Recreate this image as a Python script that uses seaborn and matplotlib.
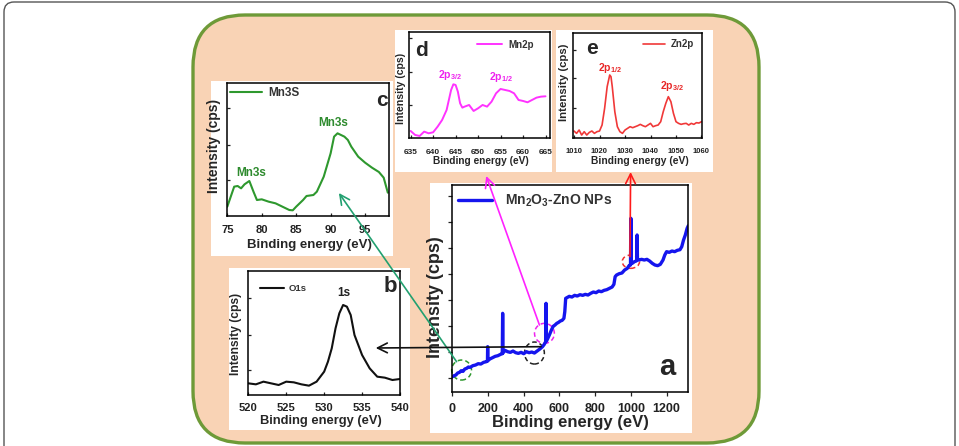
import matplotlib
matplotlib.use("Agg")
import matplotlib.pyplot as plt
from matplotlib.patches import FancyBboxPatch, Rectangle, Ellipse, ConnectionPatch
import seaborn as sns

# (a) survey spectrum, Mn2O3-ZnO NPs
survey_ev = [0, 10, 20, 30, 40, 50, 60, 70, 80, 90, 100, 115, 130, 145, 160, 175, 190, 197, 198, 199,
             210, 225, 240, 255, 270, 280, 282, 284, 295, 310, 325, 340, 355, 370, 385, 400, 415, 430,
             445, 460, 475, 490, 505, 515, 523, 525, 527, 535, 545, 555, 565, 575, 585, 595, 605, 615,
             625, 630, 635, 645, 655, 670, 685, 700, 715, 730, 745, 760, 775, 790, 805, 820, 835, 850,
             865, 880, 895, 905, 912, 920, 935, 950, 965, 980, 990, 998, 1000, 1002, 1010, 1020, 1030,
             1033, 1035, 1037, 1045, 1060, 1075, 1090, 1105, 1120, 1135, 1150, 1165, 1180, 1190, 1200,
             1215, 1230, 1245, 1260, 1275, 1285, 1295, 1305, 1315, 1322]
survey_cps = [45, 48, 50, 56, 58, 63, 61, 68, 70, 74, 73, 78, 80, 84, 83, 88, 90, 92, 135, 93,
              98, 102, 106, 108, 112, 114, 235, 116, 124, 120, 118, 122, 117, 115, 118, 114, 120, 117,
              119, 116, 122, 128, 135, 142, 150, 265, 152, 160, 172, 185, 196, 200, 205, 208, 212, 214,
              220, 240, 280, 283, 286, 284, 289, 287, 291, 289, 292, 290, 295, 299, 297, 302, 300, 304,
              306, 310, 314, 322, 345, 350, 354, 356, 365, 370, 378, 380, 520, 384, 386, 390, 392,
              394, 470, 396, 395, 397, 395, 397, 392, 385, 380, 378, 382, 395, 410, 420,
              418, 422, 420, 424, 426, 435, 455, 470, 490, 498]

# (b) O1s
o1s_ev = [520, 521, 522, 523, 524, 525, 526, 527, 528, 529, 530, 530.5, 531, 531.5, 532, 532.5, 533,
          533.5, 534, 534.5, 535, 536, 537, 538, 539, 540]
o1s_cps = [35, 32, 40, 35, 30, 40, 38, 32, 28, 40, 70, 100, 140, 200, 245, 270, 265, 240, 180, 150,
           120, 80, 55, 52, 45, 48]

# (c) Mn3s
mn3s_ev = [75, 75.5, 76, 76.5, 77, 77.5, 78.2, 78.8, 79.3, 80, 81, 82, 83, 84, 84.5, 85, 86, 86.5,
           87.5, 88, 89, 90, 90.5, 91, 91.5, 92, 92.5, 93, 94, 95, 96, 97, 97.7, 98.3]
mn3s_cps = [28, 58, 88, 90, 83, 95, 105, 73, 48, 50, 43, 38, 28, 18, 17, 28, 48, 60,
            63, 73, 118, 188, 238, 248, 243, 238, 228, 208, 178, 160, 145, 132, 115, 70]

# (d) Mn2p
mn2p_ev = [635, 636, 637, 638, 639, 640, 641, 642, 643, 644, 644.5, 645, 645.5, 646, 646.5, 647, 648,
           649, 650, 651, 652, 653, 654, 655, 656, 657, 658, 659, 660, 661, 662, 663, 664, 665]
mn2p_cps = [22, 10, 7, 20, 15, 18, 35, 55, 85, 145, 162, 160, 140, 105, 92, 95, 100,
            82, 90, 100, 95, 110, 135, 148, 145, 142, 135, 115, 112, 108, 115, 122, 125, 126]

# (e) Zn2p
zn2p_ev = [1010, 1011, 1012, 1013, 1014, 1015, 1016, 1017, 1018, 1019, 1020, 1021, 1022, 1023, 1024,
           1024.5, 1025, 1026, 1027, 1028, 1029, 1030, 1031, 1032, 1033, 1034, 1035, 1036, 1037, 1038,
           1039, 1040, 1041, 1042, 1043, 1044, 1045, 1046, 1047, 1048, 1049, 1050, 1051, 1052, 1053,
           1054, 1055, 1056, 1057, 1058, 1059, 1060]
zn2p_cps = [20, 13, 23, 8, 18, 8, 16, 20, 13, 18, 20, 38, 88, 153, 188,
            183, 153, 78, 33, 18, 13, 23, 28, 33, 30, 33, 36, 40, 36, 33,
            38, 43, 33, 36, 38, 48, 78, 103, 123, 108, 73, 48, 43, 40, 42,
            43, 38, 43, 40, 45, 44, 48]

sns.set_style("white")
plt.rcParams["font.family"] = ["Liberation Sans", "DejaVu Sans"]
plt.rcParams["font.weight"] = "bold"
plt.rcParams["axes.labelweight"] = "bold"
plt.rcParams["mathtext.fontset"] = "custom"
plt.rcParams["mathtext.rm"] = "Liberation Sans:bold"
plt.rcParams["mathtext.bf"] = "Liberation Sans:bold"
plt.rcParams["mathtext.default"] = "bf"

W, H = 959, 446
fig = plt.figure(figsize=(W / 100, H / 100), dpi=100)

# background in pixel units
bg = fig.add_axes([0, 0, 1, 1], zorder=-5)
bg.set_xlim(0, W)
bg.set_ylim(H, 0)
bg.axis("off")
bg.add_patch(FancyBboxPatch((4, 2), 951, 490, boxstyle="round,pad=0,rounding_size=10",
                            fc="white", ec="#555555", lw=1.0, clip_on=False))
bg.add_patch(FancyBboxPatch((193, 15), 566, 428, boxstyle="round,pad=0,rounding_size=52",
                            fc="#F9D3B5", ec="#6E9A38", lw=2.4))
for x0, y0, x1, y1 in [(211, 81, 393, 256), (395, 30, 552, 172), (556, 30, 713, 172),
                       (229, 268, 410, 430), (430, 183, 692, 433)]:
    bg.add_patch(Rectangle((x0, y0), x1 - x0, y1 - y0, fc="white", ec="none"))


def add_panel(x0, y0, x1, y1):
    return fig.add_axes([x0 / W, 1 - y1 / H, (x1 - x0) / W, (y1 - y0) / H])


def frame(ax, fs, pad, direction, length):
    for s in ax.spines.values():
        s.set_visible(True)
        s.set_color("black")
        s.set_linewidth(1.1)
    ax.tick_params(axis="both", direction=direction, length=length, width=0.9,
                   colors="#222222", labelsize=fs, pad=pad, bottom=True, left=True)
    ax.set_yticklabels([])


def legend(ax, fx, fy, fs, hl, tp):
    leg = ax.legend(loc="center left", bbox_to_anchor=(fx, fy), frameon=False, fontsize=fs,
                    handlelength=hl, handletextpad=tp, borderpad=0, borderaxespad=0)
    for t in leg.get_texts():
        t.set_color("#333333")


# ---- (a) survey
ax_a = add_panel(452.3, 185, 688, 391.7)
sns.lineplot(x=survey_ev, y=survey_cps, ax=ax_a, color="#1515EE", lw=2.4,
             label="Mn$_2$O$_3$-ZnO NPs", errorbar=None)
ax_a.set_xlim(0, 1320)
ax_a.set_ylim(0, 620)
ax_a.set_xticks([0, 200, 400, 600, 800, 1000, 1200])
ax_a.set_yticks([40, 118, 196, 274, 352, 430, 508, 586])
frame(ax_a, 9, 5.3, "out", 3)
ax_a.set_xlabel("Binding energy (eV)", fontsize=12)
ax_a.set_ylabel("Intensity (cps)", fontsize=13)
ax_a.xaxis.set_label_coords(0.5, -0.112)
ax_a.yaxis.set_label_coords(-0.037, 0.459)
legend(ax_a, 0.024, 0.923, 10, 2.45, 0.95)
ax_a.text(0.911, 0.121, "a", transform=ax_a.transAxes, fontsize=21, ha="center", va="center")

# ---- (b) O1s
ax_b = add_panel(248.3, 271, 400, 395)
sns.lineplot(x=o1s_ev, y=o1s_cps, ax=ax_b, color="#111111", lw=1.5, label="O1s", errorbar=None)
ax_b.set_xlim(520, 540)
ax_b.set_ylim(0, 372)
ax_b.set_xticks([520, 525, 530, 535, 540])
ax_b.set_yticks([75, 180, 290])
frame(ax_b, 8, 6.0, "in", 2)
ax_b.set_xlabel("Binding energy (eV)", fontsize=9.3)
ax_b.set_ylabel("Intensity (cps)", fontsize=8.7)
ax_b.xaxis.set_label_coords(0.477, -0.163)
ax_b.yaxis.set_label_coords(-0.044, 0.493)
legend(ax_b, 0.077, 0.855, 6.8, 2.5, 0.55)
ax_b.text(532.6, 306, "1s", fontsize=8.5, ha="center", va="center", color="#222222")
ax_b.text(0.934, 0.878, "b", transform=ax_b.transAxes, fontsize=16, ha="center", va="center")

# ---- (c) Mn3s
ax_c = add_panel(227.3, 83.3, 388.5, 216)
sns.lineplot(x=mn3s_ev, y=mn3s_cps, ax=ax_c, color="#2E982E", lw=1.5, label="Mn3S", errorbar=None)
ax_c.set_xlim(75, 98.4)
ax_c.set_ylim(0, 398)
ax_c.set_xticks([75, 80, 85, 90, 95])
ax_c.set_yticks([108, 213, 323])
frame(ax_c, 8, 6.2, "in", 2)
ax_c.set_xlabel("Binding energy (eV)", fontsize=9.5)
ax_c.set_ylabel("Intensity (cps)", fontsize=10)
ax_c.xaxis.set_label_coords(0.509, -0.173)
ax_c.yaxis.set_label_coords(-0.039, 0.526)
legend(ax_c, 0.017, 0.927, 8.5, 2.7, 0.5)
ax_c.text(78.5, 128, "Mn3s", fontsize=8.5, ha="center", va="center", color="#2E8B2E")
ax_c.text(90.3, 279, "Mn3s", fontsize=8.5, ha="center", va="center", color="#2E8B2E")
ax_c.text(0.96, 0.872, "c", transform=ax_c.transAxes, fontsize=15, ha="center", va="center")

# ---- (d) Mn2p
ax_d = add_panel(409.3, 32.3, 550, 138.3)
sns.lineplot(x=mn2p_ev, y=mn2p_cps, ax=ax_d, color="#FF33FF", lw=1.4, label="Mn2p", errorbar=None)
ax_d.set_xlim(634.7, 666)
ax_d.set_ylim(0, 318)
ax_d.set_xticks([635, 640, 645, 650, 655, 660, 665])
ax_d.set_yticks([100, 200, 300])
frame(ax_d, 6, 7.5, "in", 2)
ax_d.set_xlabel("Binding energy (eV)", fontsize=7.3)
ax_d.set_ylabel("Intensity (cps)", fontsize=7.6)
ax_d.xaxis.set_label_coords(0.506, -0.166)
ax_d.yaxis.set_label_coords(-0.025, 0.47)
legend(ax_d, 0.48, 0.884, 7, 2.6, 0.6)
ax_d.text(643.8, 190, "2p$_{3/2}$", fontsize=7.5, ha="center", va="center", color="#EE22EE")
ax_d.text(655, 184, "2p$_{1/2}$", fontsize=7.5, ha="center", va="center", color="#EE22EE")
ax_d.text(0.088, 0.83, "d", transform=ax_d.transAxes, fontsize=15, ha="center", va="center")

# ---- (e) Zn2p
ax_e = add_panel(573, 33.3, 702, 137.7)
sns.lineplot(x=zn2p_ev, y=zn2p_cps, ax=ax_e, color="#F03838", lw=1.2, label="Zn2p", errorbar=None)
ax_e.set_xlim(1009.6, 1060.2)
ax_e.set_ylim(0, 313)
ax_e.set_xticks([1010, 1020, 1030, 1040, 1050, 1060])
ax_e.set_yticks([88, 178, 263])
frame(ax_e, 5.5, 7.7, "in", 2)
ax_e.set_xlabel("Binding energy (eV)", fontsize=7.4)
ax_e.set_ylabel("Intensity (cps)", fontsize=8.2)
ax_e.xaxis.set_label_coords(0.52, -0.172)
ax_e.yaxis.set_label_coords(-0.031, 0.535)
legend(ax_e, 0.543, 0.895, 7, 2.3, 0.5)
ax_e.text(1024.1, 210, "2p$_{1/2}$", fontsize=7.5, ha="center", va="center", color="#E82828")
ax_e.text(1048.3, 156, "2p$_{3/2}$", fontsize=7.5, ha="center", va="center", color="#E82828")
ax_e.text(0.145, 0.857, "e", transform=ax_e.transAxes, fontsize=15, ha="center", va="center")

# ---- dashed markers on the survey and arrows to the insets
for (cx, cy, w, h, c) in [(52, 65, 111, 60, "#2E982E"), (460, 116, 111, 66, "#222222"),
                          (516, 175, 111, 60, "#EE22EE"), (1000, 390, 97, 40, "#F03030")]:
    ax_a.add_patch(Ellipse((cx, cy), w, h, fill=False, ec=c, lw=1.1, ls=(0, (3, 2)), clip_on=False))

arrows = [((24, 90), ax_c, (91.2, 69), "#22A070"),
          ((497, 135), ax_b, (536.8, 141), "#111111"),
          ((488, 200), ax_d, (651.8, -113), "#FF22FF"),
          ((995, 405), ax_e, (1032.2, -103), "#FF1A1A")]
for xy_a, ax_t, xy_t, c in arrows:
    con = ConnectionPatch(xyA=xy_a, coordsA=ax_a.transData, xyB=xy_t, coordsB=ax_t.transData,
                          arrowstyle="->,head_length=0.5,head_width=0.25", mutation_scale=14,
                          color=c, lw=1.2, zorder=20)
    fig.add_artist(con)

fig.savefig("out.png", dpi=100)
